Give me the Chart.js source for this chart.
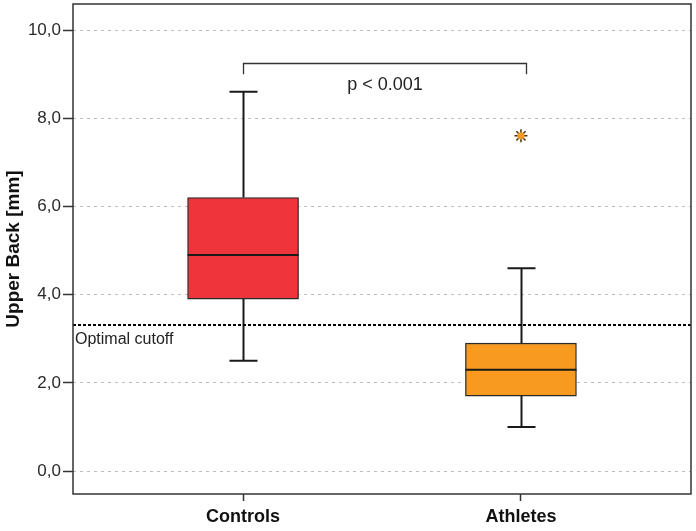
<!DOCTYPE html>
<html>
<head>
<meta charset="utf-8">
<script src="https://cdn.jsdelivr.net/npm/chart.js@4/dist/chart.umd.min.js"></script>
<style>
html,body{margin:0;padding:0;background:#fff;}
#wrap{width:696px;height:531px;}
</style>
</head>
<body>
<div id="wrap"><canvas id="c" width="696" height="531"></canvas></div>
<script>
// ---- data ----
const categories = ['Controls', 'Athletes'];
const categoryX = [1, 2];
const whiskerLow = [2.5, 1.0];
const q1 = [3.9, 1.7];
const median = [4.9, 2.3];
const q3 = [6.2, 2.9];
const whiskerHigh = [8.6, 4.6];
const outliers = [[], [7.6]];
const yTicks = [0, 2, 4, 6, 8, 10];
const cutoffValue = 3.31;
const cutoffLabel = 'Optimal cutoff';
const pLabel = 'p < 0.001';
const bracketX = [1, 2.02];
const bracketY = [9.0, 9.25];
const pLabelY = 8.75;

// ---- styles ----
const boxColors = ['#ef343c', '#f79a1f'];
const ink = '#1a1a1a';
const capWidth = 28;
const boxWidth = 111;

const outlierPts = [];
outliers.forEach((arr, i) => arr.forEach(v => outlierPts.push({x: categoryX[i], y: v})));

const boxPlugin = {
  id: 'boxExtras',
  beforeDatasetsDraw(chart) {
    const {ctx, scales: {x, y}} = chart;
    ctx.save();
    ctx.strokeStyle = ink;
    ctx.lineWidth = 2;
    categoryX.forEach((cx, i) => {
      const px = Math.round(x.getPixelForValue(cx)) + 0.5;
      ctx.beginPath();
      ctx.moveTo(px, y.getPixelForValue(q3[i]));
      ctx.lineTo(px, y.getPixelForValue(whiskerHigh[i]));
      ctx.moveTo(px, y.getPixelForValue(q1[i]));
      ctx.lineTo(px, y.getPixelForValue(whiskerLow[i]));
      ctx.stroke();
      ctx.beginPath();
      [whiskerHigh[i], whiskerLow[i]].forEach(v => {
        const py = y.getPixelForValue(v);
        ctx.moveTo(px - capWidth / 2, py);
        ctx.lineTo(px + capWidth / 2, py);
      });
      ctx.stroke();
    });
    ctx.restore();
  },
  afterDatasetsDraw(chart) {
    const {ctx, chartArea: ca, scales: {x, y}} = chart;
    ctx.save();
    ctx.strokeStyle = ink;
    ctx.lineWidth = 2;
    categoryX.forEach((cx, i) => {
      const px = x.getPixelForValue(cx);
      const py = y.getPixelForValue(median[i]);
      ctx.beginPath();
      ctx.moveTo(px - boxWidth / 2, py);
      ctx.lineTo(px + boxWidth / 2, py);
      ctx.stroke();
    });
    const cy = Math.round(y.getPixelForValue(cutoffValue));
    ctx.strokeStyle = '#000';
    ctx.lineWidth = 2;
    ctx.setLineDash([3, 2]);
    ctx.beginPath();
    ctx.moveTo(ca.left, cy);
    ctx.lineTo(ca.right, cy);
    ctx.stroke();
    ctx.setLineDash([]);
    ctx.fillStyle = '#222';
    ctx.font = '16px "Liberation Sans", Arial, sans-serif';
    ctx.textAlign = 'left';
    ctx.textBaseline = 'top';
    ctx.fillText(cutoffLabel, ca.left + 2, cy + 7);
    const bx0 = Math.round(x.getPixelForValue(bracketX[0])) + 0.5;
    const bx1 = Math.round(x.getPixelForValue(bracketX[1])) + 0.5;
    const byTop = Math.round(y.getPixelForValue(bracketY[1])) + 0.5;
    const byBot = y.getPixelForValue(bracketY[0]);
    ctx.strokeStyle = '#333';
    ctx.lineWidth = 1.3;
    ctx.beginPath();
    ctx.moveTo(bx0, byBot);
    ctx.lineTo(bx0, byTop);
    ctx.lineTo(bx1, byTop);
    ctx.lineTo(bx1, byBot);
    ctx.stroke();
    ctx.fillStyle = '#222';
    ctx.font = '18px "Liberation Sans", Arial, sans-serif';
    ctx.textAlign = 'center';
    ctx.textBaseline = 'middle';
    ctx.fillText(pLabel, (bx0 + bx1) / 2, y.getPixelForValue(pLabelY));
    ctx.strokeStyle = '#333';
    ctx.lineWidth = 1.5;
    ctx.strokeRect(ca.left, ca.top, ca.right - ca.left, ca.bottom - ca.top);
    ctx.restore();
  }
};

new Chart(document.getElementById('c'), {
  type: 'bar',
  data: {
    datasets: [
      {
        type: 'bar',
        data: categoryX.map((cx, i) => ({x: cx, y: [q1[i], q3[i]]})),
        backgroundColor: boxColors,
        borderColor: '#2a2a2a',
        borderWidth: 1.3,
        borderSkipped: false,
        barThickness: boxWidth,
        order: 3
      },
      {
        type: 'scatter',
        data: outlierPts,
        pointStyle: 'star',
        pointRadius: 6.5,
        borderColor: '#4a3210',
        borderWidth: 1.5,
        backgroundColor: boxColors[1],
        order: 2
      },
      {
        type: 'scatter',
        data: outlierPts,
        pointStyle: 'circle',
        pointRadius: 3.6,
        borderWidth: 0,
        backgroundColor: boxColors[1],
        order: 1
      }
    ]
  },
  options: {
    responsive: false,
    animation: false,
    events: [],
    layout: {autoPadding: false, padding: {left: 0, top: 4, right: 5, bottom: 0}},
    plugins: {legend: {display: false}, tooltip: {enabled: false}},
    scales: {
      x: {
        type: 'linear',
        offset: false,
        min: 0.388,
        max: 2.612,
        afterBuildTicks: s => { s.ticks = categoryX.map(v => ({value: v})); },
        afterFit: s => { s.height = 37; s.paddingLeft = 0; s.paddingRight = 0; },
        ticks: {
          callback: v => { const k = categoryX.indexOf(v); return k >= 0 ? categories[k] : ''; },
          font: {family: '"Liberation Sans", Arial, sans-serif', size: 18, weight: 'bold'},
          color: '#111',
          padding: 5,
          maxRotation: 0,
          autoSkip: false
        },
        grid: {offset: false, drawOnChartArea: false, drawTicks: true, tickLength: 7, tickColor: '#333', tickWidth: 1.5},
        border: {display: false}
      },
      y: {
        min: -0.52,
        max: 10.59,
        afterBuildTicks: s => { s.ticks = yTicks.map(v => ({value: v})); },
        afterFit: s => { s.width = 73; s.paddingTop = 0; s.paddingBottom = 0; },
        ticks: {
          callback: v => v.toFixed(1).replace('.', ','),
          font: {family: '"Liberation Sans", Arial, sans-serif', size: 17},
          color: '#2a2a2a',
          padding: 2
        },
        grid: {color: '#bdbdbd', lineWidth: 1, tickColor: '#333', tickLength: 10, tickWidth: 1.5, tickBorderDash: []},
        border: {display: false, dash: [3, 4]},
        title: {
          display: true,
          text: 'Upper Back [mm]',
          font: {family: '"Liberation Sans", Arial, sans-serif', size: 19, weight: 'bold'},
          color: '#111',
          padding: {top: 2, bottom: 0}
        }
      }
    }
  },
  plugins: [boxPlugin]
});
</script>
</body>
</html>
